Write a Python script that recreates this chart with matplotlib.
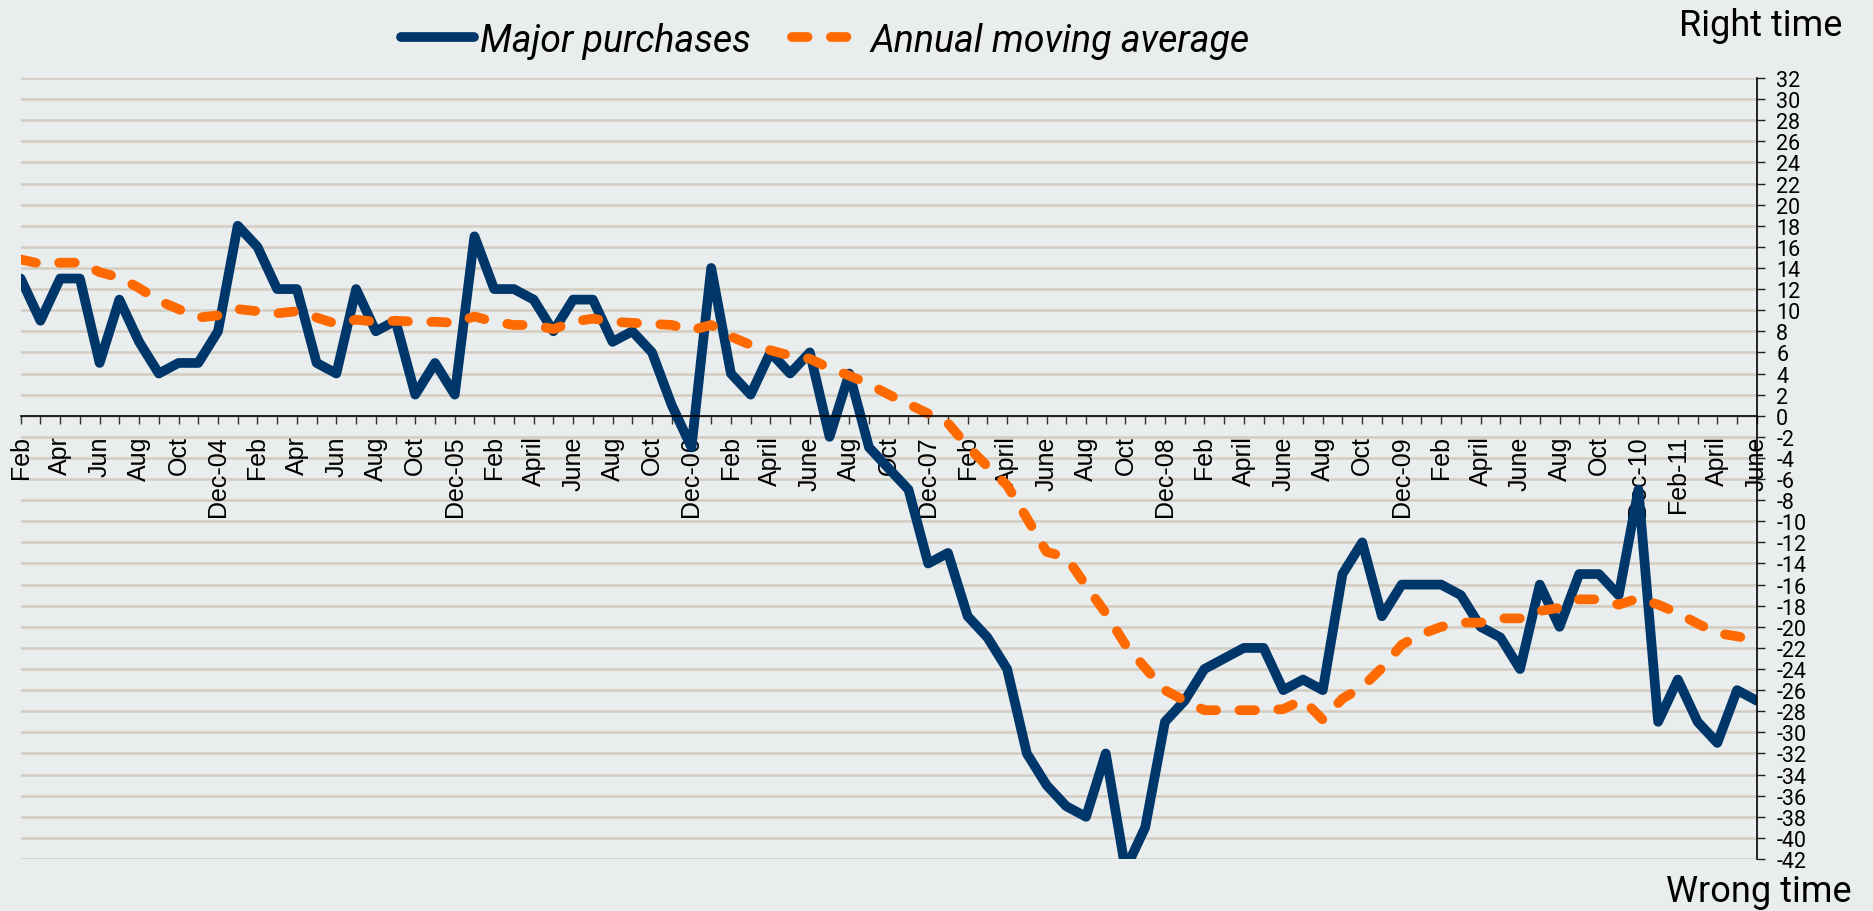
import numpy as np
import matplotlib.pyplot as plt

# monthly values, Feb 2004 .. June 2011
major = [13, 9, 13, 13, 5, 11, 7, 4, 5, 5,
         8, 18, 16, 12, 12, 5, 4, 12, 8, 9,
         2, 5, 2, 17, 12, 12, 11, 8, 11, 11,
         7, 8, 6, 1, -3, 14, 4, 2, 6, 4,
         6, -2, 4, -3, -5, -7, -14, -13, -19, -21,
         -24, -32, -35, -37, -38, -32, -43, -39, -29, -27,
         -24, -23, -22, -22, -26, -25, -26, -15, -12, -19,
         -16, -16, -16, -17, -20, -21, -24, -16, -20, -15,
         -15, -17, -7, -29, -25, -29, -31, -26, -27]

moving_avg = [14.8, 14.4, 14.5, 14.5, 13.6, 13.1, 12.1, 10.9, 10.1, 9.3,
              9.5, 10.1, 9.9, 9.7, 9.9, 9.3, 8.7, 9.1, 8.9, 9.0,
              8.9, 8.9, 8.8, 9.4, 8.9, 8.6, 8.6, 8.2, 8.9, 9.2,
              8.9, 8.8, 8.7, 8.6, 8.1, 8.6, 7.5, 6.7, 6.2, 5.7,
              5.4, 4.5, 3.8, 3.0, 2.0, 1.1, 0.2, -0.7, -2.9, -4.8,
              -6.6, -9.7, -12.9, -13.4, -16.1, -18.7, -21.7, -23.9, -26.0, -27.0,
              -27.9, -27.9, -27.9, -27.9, -27.8, -26.9, -28.8, -26.8, -25.7, -23.9,
              -21.7, -20.7, -20.0, -19.6, -19.6, -19.2, -19.2, -18.5, -18.2, -17.4,
              -17.4, -17.9, -17.3, -17.9, -18.7, -19.7, -20.6, -20.9, -21.3]

# every second month gets a label
month_labels = ['Feb', 'Apr', 'Jun', 'Aug', 'Oct', 'Dec-04',
                'Feb', 'Apr', 'Jun', 'Aug', 'Oct', 'Dec-05',
                'Feb', 'April', 'June', 'Aug', 'Oct', 'Dec-06',
                'Feb', 'April', 'June', 'Aug', 'Oct', 'Dec-07',
                'Feb', 'April', 'June', 'Aug', 'Oct', 'Dec-08',
                'Feb', 'April', 'June', 'Aug', 'Oct', 'Dec-09',
                'Feb', 'April', 'June', 'Aug', 'Oct', 'Dec-10',
                'Feb-11', 'April', 'June']

bg = '#E9EDEE'
grid_col = '#D3CCC1'
blue = '#00376B'
orange = '#FF6A00'

x = np.arange(len(major))

fig = plt.figure(figsize=(18.74, 9.12), dpi=100, facecolor=bg)
ax = fig.add_axes([0.01105, 0.0570, 0.9264, 0.8564])
ax.set_facecolor(bg)

yticks = np.arange(-42, 33, 2)
for v in yticks:
    ax.axhline(v, color=grid_col, lw=1.8, zorder=1)

ax.plot(x, major, color=blue, lw=7, solid_joinstyle='round',
        solid_capstyle='round', zorder=2, label='Major purchases')
ax.plot(x, moving_avg, color=orange, lw=7, dashes=(1.6, 2.4),
        dash_capstyle='round', dash_joinstyle='round', zorder=2,
        label='Annual moving average')

ax.set_xlim(0, len(major) - 1)
ax.set_ylim(-42, 32)

# x axis through zero, values on the right
ax.spines['top'].set_visible(False)
ax.spines['left'].set_visible(False)
ax.spines['bottom'].set_position(('data', 0))
ax.spines['bottom'].set_linewidth(1.2)
ax.spines['right'].set_linewidth(1.2)

ax.set_xticks(x)
labels = [''] * len(x)
for k, lab in enumerate(month_labels):
    labels[2 * k] = lab
ax.set_xticklabels(labels, rotation=90, fontsize=18,
                   family='Liberation Sans', va='top')
ax.tick_params(axis='x', direction='out', length=6, width=1,
               color='#333333', pad=8)

ax.yaxis.tick_right()
ax.set_yticks(yticks)
ax.set_yticklabels([str(v) for v in yticks], fontsize=15.5, family='Roboto')
ax.tick_params(axis='y', direction='out', length=6, width=1,
               color='#222222', pad=8)

leg = ax.legend(loc='center', bbox_to_anchor=(0.4405, 0.955),
                bbox_transform=fig.transFigure, ncol=2, frameon=False,
                prop={'family': 'Roboto', 'style': 'italic', 'size': 27},
                handlelength=1.95, handletextpad=0.15, columnspacing=1.1)

fig.text(0.983, 0.9605, 'Right time', ha='right', va='baseline',
         fontsize=26, family='Roboto')
fig.text(0.988, 0.011, 'Wrong time', ha='right', va='baseline',
         fontsize=26, family='Roboto')

fig.savefig('out.png', dpi=100, facecolor=bg)
